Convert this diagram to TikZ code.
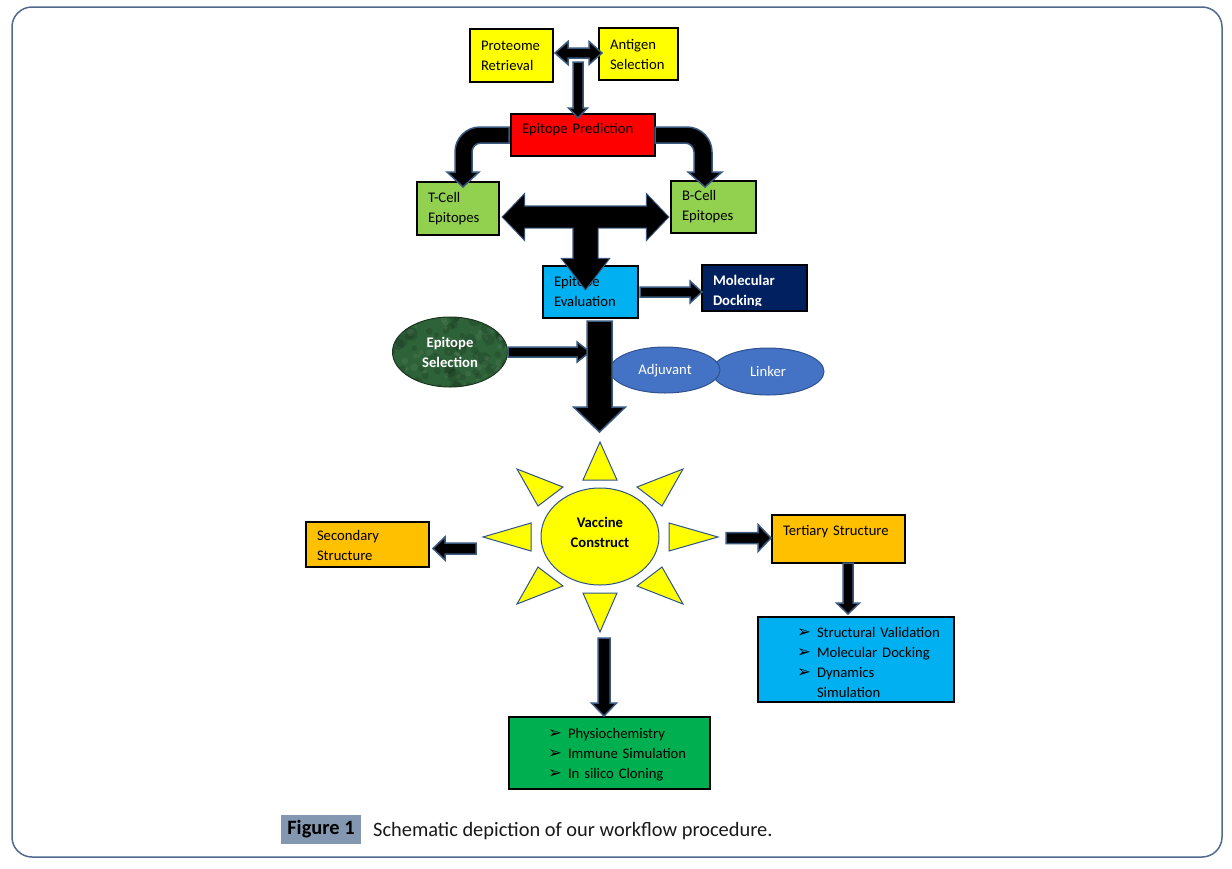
\documentclass[tikz,border=0pt]{standalone}
\usepackage{fontspec}
\setmainfont{Carlito}
\newfontfamily\symfont{DejaVu Sans}
\usetikzlibrary{calc,shapes.geometric}
\definecolor{boxyellow}{HTML}{FFFF00}
\definecolor{boxred}{HTML}{FF0000}
\definecolor{cellgreen}{HTML}{92D050}
\definecolor{evalblue}{HTML}{00B0F0}
\definecolor{docknavy}{HTML}{002060}
\definecolor{structorange}{HTML}{FFC000}
\definecolor{listgreen}{HTML}{00B050}
\definecolor{ovalblue}{HTML}{4472C4}
\definecolor{ovaledge}{HTML}{2F528F}
\definecolor{selgreen}{HTML}{2E6238}
\definecolor{arrowedge}{HTML}{3B5A80}
\definecolor{capblue}{HTML}{8497B0}
\definecolor{framegray}{HTML}{4F6A8C}

\newcommand{\bodyfont}{\fontsize{14.67pt}{20pt}\selectfont}
\newcommand{\arrowitem}[1]{\hspace*{28pt}\makebox[20pt][l]{\symfont\fontsize{16.5pt}{20pt}\selectfont ➢}#1}
% block arrow: style, from, to, half shaft, half head, head length
\newcommand{\blockarrow}[6][blockarrow]{%
  \coordinate (ba-s) at (#2);
  \coordinate (ba-t) at (#3);
  \coordinate (ba-h) at ($(ba-t)!#6!(ba-s)$);
  \path[#1] ($(ba-s)!#4!90:(ba-t)$) -- ($(ba-h)!#4!-90:(ba-s)$) -- ($(ba-h)!#5!-90:(ba-s)$)
    -- (ba-t) -- ($(ba-h)!#5!90:(ba-s)$) -- ($(ba-h)!#4!90:(ba-s)$) -- ($(ba-s)!#4!-90:(ba-t)$) -- cycle;
}
% same with a head on both ends
\newcommand{\doubleblockarrow}[6][blockarrow]{%
  \coordinate (da-s) at (#2);
  \coordinate (da-t) at (#3);
  \coordinate (da-h) at ($(da-t)!#6!(da-s)$);
  \coordinate (da-g) at ($(da-s)!#6!(da-t)$);
  \path[#1] (da-s) -- ($(da-g)!#5!90:(da-t)$) -- ($(da-g)!#4!90:(da-t)$) -- ($(da-h)!#4!-90:(da-s)$)
    -- ($(da-h)!#5!-90:(da-s)$) -- (da-t) -- ($(da-h)!#5!90:(da-s)$) -- ($(da-h)!#4!90:(da-s)$)
    -- ($(da-g)!#4!-90:(da-t)$) -- ($(da-g)!#5!-90:(da-t)$) -- cycle;
}

\begin{document}
\begin{tikzpicture}[x=1pt,y=-1pt,line join=miter]
\tikzstyle{box}=[draw=black,line width=1.3pt,inner xsep=11pt,inner ysep=0pt,align=left,font=\bodyfont,text=black]
\tikzstyle{oval}=[ellipse,inner sep=0pt,align=center,font=\bodyfont]
\tikzstyle{blockarrow}=[draw=arrowedge,fill=black,line width=1.5pt]
\tikzstyle{arrowback}=[draw=arrowedge,fill=black,line width=2.2pt]
\tikzstyle{arrowfront}=[fill=black]
\tikzstyle{ray}=[draw=ovaledge,fill=boxyellow,line width=1pt]
\pgfmathsetseed{7}

\useasboundingbox (0,0) rectangle (1232,868);
\draw[framegray,line width=1.5pt,rounded corners=20pt] (12,7) rectangle (1222,857);

% top row
\node[box,fill=boxyellow,minimum height=53pt,text width=61pt] (proteome) at (511.5,55.5) {Proteome\\Retrieval};
\node[box,fill=boxyellow,minimum height=52pt,text width=57pt] (antigen) at (638.5,54) {Antigen\\Selection};
\node[box,fill=boxred,minimum height=42pt,text width=122pt] (prediction) at (583,135) {\rule{0pt}{16pt}Epitope Prediction\\\mbox{}};
\node[box,fill=cellgreen,minimum height=53pt,text width=60pt] (tcell) at (458,208.5) {T-Cell\\Epitopes};
\node[box,fill=cellgreen,minimum height=52pt,text width=63pt] (bcell) at (713.5,207) {B-Cell\\Epitopes};
\node[box,fill=evalblue,minimum height=52pt,text width=73pt] (evaluation) at (590.5,292) {Epitope\\Evaluation};
\node[box,fill=docknavy,minimum height=46pt,text width=83pt,text=white,font=\bodyfont\bfseries] (docking) at (754.5,288) {\rule{0pt}{16.5pt}Molecular\\Docking};
\fill[docknavy] (703,306) rectangle (806,310.3);

% epitope selection and the two ovals
\node[oval,fill=selgreen,draw=selgreen!55!black,line width=1pt,minimum width=115pt,minimum height=70pt,text=white,font=\bodyfont\bfseries,
  path picture={\foreach \k in {1,...,70}
    \fill[black,opacity=0.12] ($(path picture bounding box.center)+(rand*58,rand*36)$) circle ({2+5*rnd});
    \foreach \k in {1,...,60}
    \fill[white,opacity=0.06] ($(path picture bounding box.center)+(rand*58,rand*36)$) circle ({1+3*rnd});
  }] (selection) at (450,352) {Epitope\\Selection};
\node[oval,fill=ovalblue,draw=ovaledge,line width=1pt,minimum width=112pt,minimum height=47pt,text=white] (linker) at (768,371.5) {Linker};
\node[oval,fill=ovalblue,draw=ovaledge,line width=1pt,minimum width=110pt,minimum height=46pt,text=white] (adjuvant) at (665,370) {\rule{0pt}{12pt}Adjuvant};

% vaccine construct sun
\filldraw[ray] (600,442) -- (583,480) -- (617,480) -- cycle
  (600,632) -- (583,593) -- (617,593) -- cycle
  (483,537) -- (531,523) -- (531,551) -- cycle
  (718,537) -- (669,523) -- (669,551) -- cycle
  (517,469) -- (563,487) -- (538,506) -- cycle
  (683,469) -- (637,487) -- (662,506) -- cycle
  (517,604) -- (538,567) -- (563,586) -- cycle
  (683,604) -- (662,567) -- (637,586) -- cycle;
\node[oval,fill=boxyellow,draw=ovaledge,line width=1pt,minimum width=118pt,minimum height=97pt,font=\bodyfont\bfseries] (construct) at (600,536.5) {Vaccine\\Construct\rule[-8pt]{0pt}{8pt}};

% structures and analyses
\node[box,fill=structorange,minimum height=45pt,text width=101pt] (secondary) at (367.5,544.5) {\rule{0pt}{13pt}Secondary\\Structure};
\node[box,fill=structorange,minimum height=48pt,text width=111pt] (tertiary) at (838.5,539) {\rule{0pt}{12pt}Tertiary~Structure\\\mbox{}};
\node[box,fill=evalblue,minimum height=85pt,text width=174pt] (validation) at (856,659.5)
  {\rule{0pt}{15.5pt}\arrowitem{Structural Validation}\\\arrowitem{Molecular Docking}\\\arrowitem{Dynamics}\\\hspace*{48pt}Simulation};
\node[box,fill=listgreen,minimum height=72pt,text width=179pt] (physio) at (609.5,753)
  {\rule{0pt}{14pt}\arrowitem{Physiochemistry}\\\arrowitem{Immune Simulation}\\\arrowitem{In silico Cloning}};

% block arrows
\doubleblockarrow{555,53}{602,53}{5pt}{11.5pt}{13pt}
\blockarrow{578,62}{578,118}{5pt}{9.5pt}{10pt}
\filldraw[blockarrow] (509,127) -- (480,127) .. controls (466.2,127) and (455,138.2) .. (455,152) -- (455,172)
  -- (447,172) -- (463,187) -- (479,172) -- (472,172) -- (472,152) .. controls (472,147) and (476,143) .. (481,143)
  -- (509,143) -- cycle;
\filldraw[blockarrow] (655,127) -- (687,127) .. controls (700.8,127) and (712,138.2) .. (712,152) -- (712,172)
  -- (722,172) -- (705,187) -- (688,172) -- (694,172) -- (694,152) .. controls (694,147) and (690,143) .. (685,143)
  -- (655,143) -- cycle;
\doubleblockarrow[arrowback]{503,217}{668,217}{10.5pt}{22pt}{21pt}
\blockarrow[arrowback]{585.5,217}{585.5,289}{12pt}{23pt}{30pt}
\doubleblockarrow[arrowfront]{503,217}{668,217}{10.5pt}{22pt}{21pt}
\blockarrow[arrowfront]{585.5,217}{585.5,289}{12pt}{23pt}{30pt}
\blockarrow{640,292}{702,292}{5pt}{11pt}{12pt}
\blockarrow{508,352}{590,352}{5pt}{10pt}{13pt}
\blockarrow{599.5,321}{599.5,432}{12.5pt}{26pt}{25pt}
\blockarrow{476,548.5}{433,548.5}{5.5pt}{11.5pt}{12pt}
\blockarrow{726,538}{771,538}{5.5pt}{13.5pt}{13pt}
\blockarrow{848,563}{848,614}{5pt}{11.5pt}{11pt}
\blockarrow{604,638}{604,716}{6pt}{12.5pt}{13pt}

% caption
\node[fill=capblue,minimum width=80pt,minimum height=29pt,inner sep=0pt,font=\fontsize{20.4pt}{24pt}\selectfont\bfseries] (figlabel) at (321,829.5) {Figure 1};
\node[anchor=west,inner sep=0pt,font=\fontsize{20.4pt}{24pt}\selectfont,text=black!90] (caption) at (373,831) {Schematic depiction of our workflow procedure.};
\end{tikzpicture}
\end{document}
